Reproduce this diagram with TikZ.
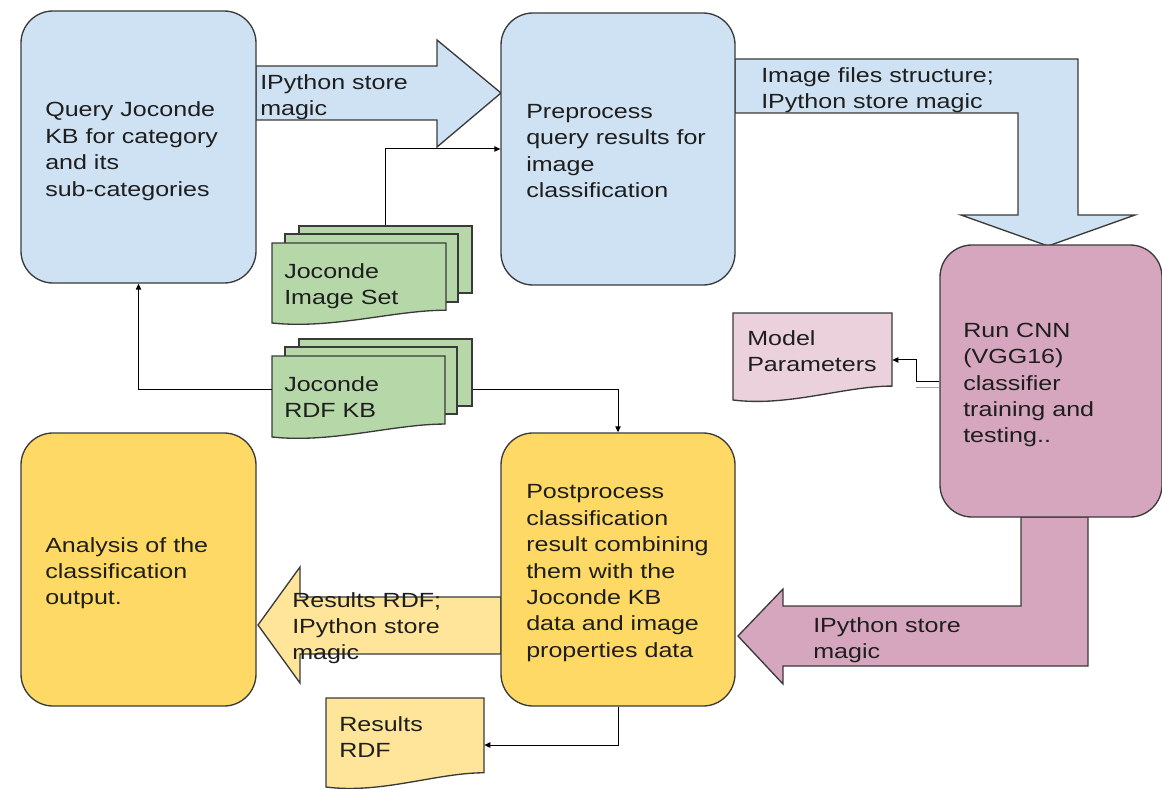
\documentclass[tikz,border=0pt]{standalone}
\usepackage{fontspec}
\setmainfont{Liberation Sans}[FakeStretch=1.22]
\usetikzlibrary{fit,arrows.meta}
\definecolor{bord}{HTML}{3A3A3A}
\definecolor{txt}{HTML}{1E1E1E}
\definecolor{qblue}{HTML}{CFE2F3}
\definecolor{qgreen}{HTML}{B6D7A8}
\definecolor{qyellow}{HTML}{FFD966}
\definecolor{qpale}{HTML}{FFE599}
\definecolor{qmauve}{HTML}{D5A6BD}
\definecolor{qpink}{HTML}{EAD1DC}
\newcommand\docpage[6]{%
  \path[docline, fill=#6] (#2,#3) -- (#4,#3) -- (#4,{#5-0.16*(#5-#3)})
    .. controls ({#4-0.3*(#4-#2)},{#5-0.16*(#5-#3)}) and ({#2+0.35*(#4-#2)},{#5+0.08*(#5-#3)}) .. (#2,#5) -- cycle;
  \node[fit={(#2,#3)(#4,#5)}, inner sep=0pt] (#1) {};
}
\begin{document}
\begin{tikzpicture}[x=0.75pt,y=-0.75pt,
  procbox/.style={draw=bord, line width=1pt, rounded corners=24pt, inner sep=0pt},
  blockarrow/.style={draw=bord, line width=1pt, line join=miter},
  pagebox/.style={draw=bord, line width=1pt, inner sep=0pt},
  docline/.style={draw=bord, line width=1pt},
  conn/.style={draw=black, line width=0.75pt, -{Triangle[length=4.5pt,width=4pt]}},
  stub/.style={draw=gray!70, line width=0.75pt},
  lbl/.style={anchor=west, align=left, inner sep=0pt, text depth=0pt, text=txt,
    font=\fontsize{15.4}{19.8}\selectfont}]
\useasboundingbox (0,0) rectangle (1162,788);

% block arrows
\path[blockarrow, fill=qblue] (256,66) -- (437,66) -- (437,40) -- (501,93) -- (437,147) -- (437,120) -- (256,120) -- cycle;
\path[blockarrow, fill=qblue] (735,59) -- (1078,59) -- (1078,215) -- (1135,215) -- (1048,246) -- (961,215) -- (1018,215) -- (1018,113) -- (735,113) -- cycle;
\path[blockarrow, fill=qmauve] (1021,517) -- (1088,517) -- (1088,666) -- (783,666) -- (783,684) -- (738,636) -- (783,589) -- (783,606) -- (1021,606) -- cycle;
\path[blockarrow, fill=qpale] (501,597) -- (300,597) -- (300,567) -- (258,625) -- (300,683) -- (300,654) -- (501,654) -- cycle;

% process boxes
\node[procbox, fill=qblue, fit={(21,11)(256,283)}] (A) {};
\node[procbox, fill=qblue, fit={(501,13)(735,285)}] (B) {};
\node[procbox, fill=qmauve, fit={(940,245)(1162,517)}] (C) {};
\node[procbox, fill=qyellow, fit={(501,433)(735,706)}] (D) {};
\node[procbox, fill=qyellow, fit={(21,433)(256,706)}] (E) {};

% stacked documents
\node[pagebox, fill=qgreen, fit={(299,226)(472,293)}] (IS3) {};
\node[pagebox, fill=qgreen, fit={(285,234)(458,302)}] (IS2) {};
\docpage{IS1}{272}{243}{446}{323}{qgreen}
\node[pagebox, fill=qgreen, fit={(299,339)(472,406)}] (KB3) {};
\node[pagebox, fill=qgreen, fit={(285,347)(457,414)}] (KB2) {};
\docpage{KB1}{272}{356}{445}{437}{qgreen}
\docpage{MP}{733}{313}{892}{400}{qpink}
\docpage{RR}{326}{698}{484}{787}{qpale}

% connectors
\draw[conn] (IS3.north) |- (B.west);
\draw[conn] ([yshift=5.6pt]KB1.west) -| (A.south);
\draw[conn] ([yshift=-12.4pt]KB3.east) -| (D.north);
\draw[conn] (C.west) -- ++(-23,0) |- ([yshift=-2.6pt]MP.east);
\draw[stub] ([yshift=-4.9pt]C.west) -- ++(-23,0);
\draw[conn] (D.south) |- ([yshift=-1.9pt]RR.east);

% labels
\node[lbl] (At) at (45,149) {Query Joconde\\KB for category\\and its\\sub-categories};
\node[lbl] (Bt) at (526,151) {Preprocess\\query results for\\image\\classification};
\node[lbl] (Ct) at (963,383) {Run CNN\\(VGG16)\\classifier\\training and\\testing..};
\node[lbl] (Dt) at (526,571) {Postprocess\\classification\\result combining\\them with the\\Joconde KB\\data and image\\properties data};
\node[lbl] (Et) at (45,571) {Analysis of the\\classification\\output.};
\node[lbl] (ABt) at (260,95) {IPython store\\magic};
\node[lbl] (BCt) at (761,88) {Image files structure;\\IPython store magic};
\node[lbl] (MPt) at (747,351) {Model\\Parameters};
\node[lbl] (ISt) at (284,284) {Joconde\\Image Set};
\node[lbl] (KBt) at (284,397) {Joconde\\RDF KB};
\node[lbl] (DEt) at (292,626) {Results RDF;\\IPython store\\magic};
\node[lbl] (CDt) at (813,638) {IPython store\\magic};
\node[lbl] (RRt) at (339,737) {Results\\RDF};
\end{tikzpicture}
\end{document}
